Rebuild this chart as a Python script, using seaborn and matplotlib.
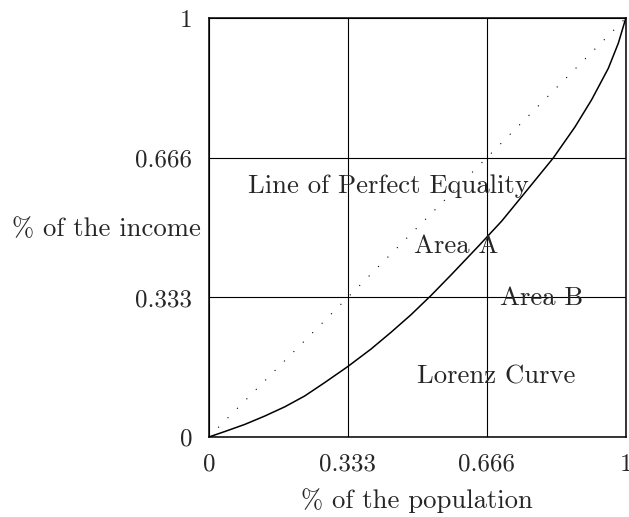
import matplotlib
matplotlib.use("Agg")
import matplotlib.pyplot as plt
import pandas as pd
import seaborn as sns

# Lorenz curve
population = [0, 0.038, 0.086, 0.134, 0.182, 0.230, 0.278, 0.333, 0.389, 0.437,
              0.485, 0.533, 0.582, 0.646, 0.702, 0.758, 0.826, 0.878, 0.918,
              0.958, 0.982, 1]
income = [0, 0.013, 0.030, 0.050, 0.072, 0.098, 0.130, 0.168, 0.210, 0.250,
          0.292, 0.338, 0.388, 0.455, 0.515, 0.583, 0.666, 0.740, 0.805,
          0.880, 0.940, 1]

equality = [0, 1]
ticks = [0, 0.333, 0.666, 1]
tick_labels = ["0", "0.333", "0.666", "1"]

labels = ["Line of Perfect Equality", "Area A", "Area B", "Lorenz Curve"]
label_x = [0.431, 0.593, 0.799, 0.689]
label_y = [0.599, 0.456, 0.332, 0.143]

sns.set_style("white")
plt.rcParams["font.family"] = ["cmr10", "DejaVu Serif"]
plt.rcParams["axes.formatter.use_mathtext"] = True

fig = plt.figure(figsize=(6.29, 5.17), dpi=100)
ax = fig.add_axes([0.332, 0.1547, 0.663, 0.8105])

curve = pd.DataFrame({"population": population, "income": income})
sns.lineplot(data=curve, x="population", y="income", ax=ax,
             color="black", linewidth=1.1, sort=True)
sns.lineplot(x=equality, y=equality, ax=ax, color="black",
             linewidth=0.8, linestyle=(0, (1, 11)))

ax.set_xlim(0, 1)
ax.set_ylim(0, 1)
ax.set_xticks(ticks)
ax.set_yticks(ticks)
ax.set_xticklabels(tick_labels, fontsize=18)
ax.set_yticklabels(tick_labels, fontsize=18)
ax.tick_params(length=0, pad=12)
ax.grid(True, color="black", linewidth=0.8)
ax.set_axisbelow(True)
for spine in ax.spines.values():
    spine.set_color("black")
    spine.set_linewidth(1.1)

ax.set_xlabel("% of the population", fontsize=19.2, labelpad=9)
ax.set_ylabel("% of the income", fontsize=19.2, rotation=0, ha="right", va="center")
ax.yaxis.set_label_coords(-0.02, 0.496)

for text, tx, ty in zip(labels, label_x, label_y):
    ax.text(tx, ty, text, fontsize=19.2, ha="center", va="center")

fig.savefig("out.png", dpi=100)
